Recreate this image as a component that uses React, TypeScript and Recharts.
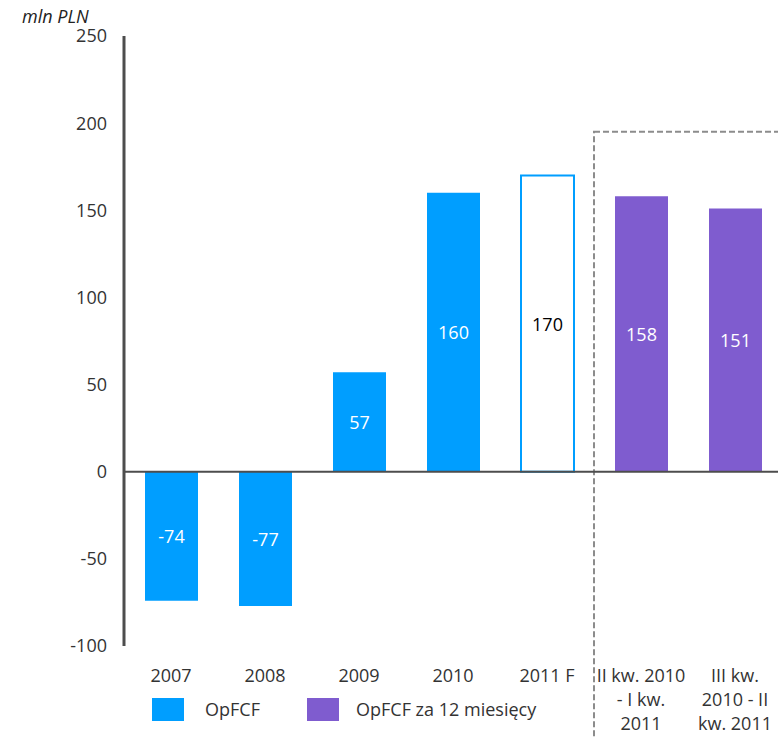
import React from 'react';
import { BarChart, Bar, XAxis, YAxis, Cell, LabelList, ReferenceLine, ReferenceArea } from 'recharts';

const categories = ['2007', '2008', '2009', '2010', '2011 F', 'II kw. 2010 - I kw. 2011', 'III kw. 2010 - II kw. 2011'];
const tickLines = [['2007'], ['2008'], ['2009'], ['2010'], ['2011 F'], ['II kw. 2010', '- I kw.', '2011'], ['III kw.', '2010 - II', 'kw. 2011']];
const values = [-74, -77, 57, 160, 170, 158, 151];
const kinds = ['actual', 'actual', 'actual', 'actual', 'forecast', 'ttm', 'ttm'];
const yTicks = [-100, -50, 0, 50, 100, 150, 200, 250];
const legendItems = ['OpFCF', 'OpFCF za 12 miesięcy'];
const ttmBoxTop = 195;

const BLUE = '#009eff';
const PURPLE = '#7f5ccf';
const FONT = '"Open Sans", "Noto Sans", sans-serif';

const data = categories.map((c, i) => ({ name: c, value: values[i], kind: kinds[i] }));

const XTick = ({ x, y, index }: any) => (
  <text x={x} y={y} textAnchor="middle" fill="#333" fontSize={18} fontFamily={FONT}>
    {tickLines[index].map((line, i) => (
      <tspan key={i} x={x} y={y + 36 + i * 24}>{line}</tspan>
    ))}
  </text>
);

const BarLabel = ({ x, y, width, height, value, index }: any) => (
  <text
    x={x + width / 2}
    y={y + height / 2}
    textAnchor="middle"
    dominantBaseline="central"
    fill={kinds[index] === 'forecast' ? '#000' : '#fff'}
    fontSize={18}
    fontFamily={FONT}
  >
    {value}
  </text>
);

const App: React.FC = () => {
  return (
    <div style={{ position: 'absolute', left: 0, top: 0, width: 778, height: 739, overflow: 'hidden', background: '#fff', fontFamily: FONT }}>
      <div style={{ position: 'absolute', left: 22, top: 4, fontSize: 18, fontStyle: 'italic', color: '#222' }}>mln PLN</div>
      <BarChart width={790} height={739} data={data} margin={{ top: 36, right: 8, left: 0, bottom: 0 }}>
        <ReferenceArea
          x1={categories[5]}
          y1={-170}
          y2={ttmBoxTop}
          ifOverflow="visible"
          fill="none"
          stroke="#8c8c8c"
          strokeWidth={2}
          strokeDasharray="6 3"
        />
        <YAxis
          width={124}
          domain={[-100, 250]}
          ticks={yTicks}
          interval={0}
          tickLine={false}
          tickSize={0}
          tickMargin={17}
          axisLine={{ stroke: '#4d4d4d', strokeWidth: 3 }}
          tick={{ fill: '#333', fontSize: 18, fontFamily: FONT }}
        />
        <XAxis
          dataKey="name"
          height={93}
          axisLine={false}
          tickLine={false}
          tickSize={0}
          tickMargin={0}
          interval={0}
          tick={<XTick />}
        />
        <ReferenceLine y={0} stroke="#4d4d4d" strokeWidth={2} ifOverflow="visible" />
        <Bar dataKey="value" barSize={53} isAnimationActive={false}>
          {data.map((d, i) => (
            <Cell
              key={i}
              fill={d.kind === 'ttm' ? PURPLE : d.kind === 'forecast' ? '#fff' : BLUE}
              stroke={d.kind === 'forecast' ? BLUE : 'none'}
              strokeWidth={d.kind === 'forecast' ? 2 : 0}
            />
          ))}
          <LabelList dataKey="value" content={<BarLabel />} />
        </Bar>
      </BarChart>
      {legendItems.map((item, i) => (
        <div key={item} style={{ position: 'absolute', left: [152, 307][i], top: 698, display: 'flex', alignItems: 'center' }}>
          <div style={{ width: 32, height: 23, background: i === 0 ? BLUE : PURPLE }} />
          <span style={{ marginLeft: i === 0 ? 21 : 17, fontSize: 18, color: '#333', lineHeight: '23px' }}>{item}</span>
        </div>
      ))}
    </div>
  );
};

export default App;
